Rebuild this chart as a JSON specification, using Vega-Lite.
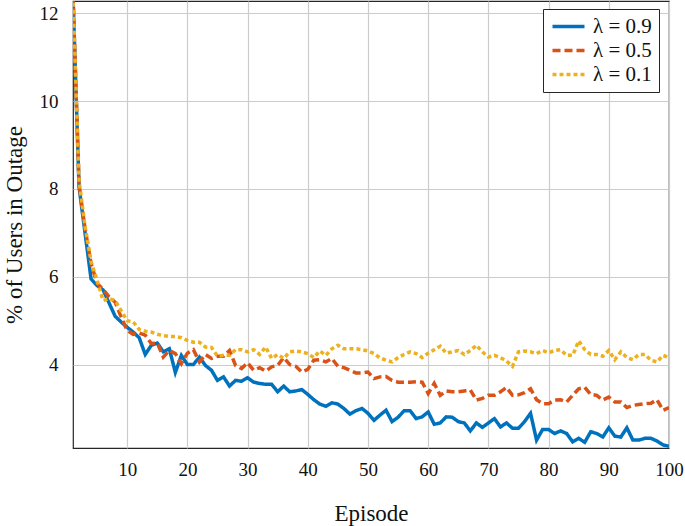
{
  "$schema": "https://vega.github.io/schema/vega-lite/v6.json",
  "width": 596,
  "height": 447,
  "autosize": {"type": "none"},
  "padding": {"left": 73, "top": 1, "right": 16, "bottom": 78},
  "config": {
    "font": "Liberation Serif",
    "view": {"stroke": "#262626", "strokeWidth": 1.2}
  },
  "data": {
    "values": [
      {"ep": 1, "a": 12.4, "b": 12.4, "c": 12.4},
      {"ep": 2, "a": 8.05, "b": 8.1, "c": 8.2},
      {"ep": 3, "a": 7.0, "b": 7.1, "c": 7.15},
      {"ep": 4, "a": 5.95, "b": 6.3, "c": 6.35},
      {"ep": 5, "a": 5.8, "b": 5.85, "c": 5.92},
      {"ep": 6, "a": 5.7, "b": 5.71, "c": 5.46},
      {"ep": 7, "a": 5.4, "b": 5.54, "c": 5.5},
      {"ep": 8, "a": 5.1, "b": 5.42, "c": 5.46},
      {"ep": 9, "a": 4.97, "b": 5.08, "c": 5.23},
      {"ep": 10, "a": 4.85, "b": 4.78, "c": 5.0},
      {"ep": 11, "a": 4.74, "b": 4.69, "c": 4.97},
      {"ep": 12, "a": 4.61, "b": 4.72, "c": 4.8},
      {"ep": 13, "a": 4.23, "b": 4.67, "c": 4.76},
      {"ep": 14, "a": 4.44, "b": 4.48, "c": 4.74},
      {"ep": 15, "a": 4.49, "b": 4.49, "c": 4.69},
      {"ep": 16, "a": 4.29, "b": 4.17, "c": 4.66},
      {"ep": 17, "a": 4.36, "b": 4.32, "c": 4.64},
      {"ep": 18, "a": 3.82, "b": 4.25, "c": 4.64},
      {"ep": 19, "a": 4.21, "b": 4.02, "c": 4.61},
      {"ep": 20, "a": 4.0, "b": 4.26, "c": 4.55},
      {"ep": 21, "a": 4.0, "b": 4.34, "c": 4.51},
      {"ep": 22, "a": 4.17, "b": 4.06, "c": 4.51},
      {"ep": 23, "a": 3.98, "b": 4.23, "c": 4.4},
      {"ep": 24, "a": 3.87, "b": 4.14, "c": 4.39},
      {"ep": 25, "a": 3.64, "b": 4.19, "c": 4.19},
      {"ep": 26, "a": 3.72, "b": 4.19, "c": 4.21},
      {"ep": 27, "a": 3.51, "b": 4.32, "c": 4.21},
      {"ep": 28, "a": 3.64, "b": 3.98, "c": 4.34},
      {"ep": 29, "a": 3.62, "b": 3.91, "c": 4.34},
      {"ep": 30, "a": 3.7, "b": 4.04, "c": 4.29},
      {"ep": 31, "a": 3.6, "b": 3.87, "c": 4.34},
      {"ep": 32, "a": 3.57, "b": 3.93, "c": 4.23},
      {"ep": 33, "a": 3.55, "b": 3.85, "c": 4.4},
      {"ep": 34, "a": 3.55, "b": 3.95, "c": 4.14},
      {"ep": 35, "a": 3.38, "b": 3.98, "c": 4.23},
      {"ep": 36, "a": 3.51, "b": 4.16, "c": 4.14},
      {"ep": 37, "a": 3.38, "b": 4.0, "c": 4.29},
      {"ep": 38, "a": 3.4, "b": 3.96, "c": 4.31},
      {"ep": 39, "a": 3.43, "b": 3.83, "c": 4.29},
      {"ep": 40, "a": 3.32, "b": 3.89, "c": 4.25},
      {"ep": 41, "a": 3.2, "b": 4.1, "c": 4.16},
      {"ep": 42, "a": 3.1, "b": 4.11, "c": 4.31},
      {"ep": 43, "a": 3.05, "b": 4.06, "c": 4.21},
      {"ep": 44, "a": 3.13, "b": 4.14, "c": 4.36},
      {"ep": 45, "a": 3.1, "b": 3.96, "c": 4.44},
      {"ep": 46, "a": 3.0, "b": 3.93, "c": 4.36},
      {"ep": 47, "a": 2.87, "b": 3.87, "c": 4.36},
      {"ep": 48, "a": 2.95, "b": 3.81, "c": 4.36},
      {"ep": 49, "a": 3.0, "b": 3.81, "c": 4.34},
      {"ep": 50, "a": 2.89, "b": 3.83, "c": 4.31},
      {"ep": 51, "a": 2.73, "b": 3.68, "c": 4.25},
      {"ep": 52, "a": 2.85, "b": 3.72, "c": 4.15},
      {"ep": 53, "a": 2.96, "b": 3.73, "c": 4.1},
      {"ep": 54, "a": 2.7, "b": 3.64, "c": 4.06},
      {"ep": 55, "a": 2.8, "b": 3.6, "c": 4.16},
      {"ep": 56, "a": 2.95, "b": 3.6, "c": 4.23},
      {"ep": 57, "a": 2.95, "b": 3.6, "c": 4.29},
      {"ep": 58, "a": 2.77, "b": 3.61, "c": 4.25},
      {"ep": 59, "a": 2.81, "b": 3.6, "c": 4.16},
      {"ep": 60, "a": 2.92, "b": 3.34, "c": 4.26},
      {"ep": 61, "a": 2.64, "b": 3.57, "c": 4.34},
      {"ep": 62, "a": 2.67, "b": 3.3, "c": 4.42},
      {"ep": 63, "a": 2.81, "b": 3.4, "c": 4.26},
      {"ep": 64, "a": 2.8, "b": 3.38, "c": 4.29},
      {"ep": 65, "a": 2.7, "b": 3.38, "c": 4.32},
      {"ep": 66, "a": 2.67, "b": 3.4, "c": 4.23},
      {"ep": 67, "a": 2.49, "b": 3.42, "c": 4.32},
      {"ep": 68, "a": 2.67, "b": 3.19, "c": 4.44},
      {"ep": 69, "a": 2.57, "b": 3.23, "c": 4.29},
      {"ep": 70, "a": 2.67, "b": 3.3, "c": 4.17},
      {"ep": 71, "a": 2.77, "b": 3.3, "c": 4.21},
      {"ep": 72, "a": 2.58, "b": 3.38, "c": 4.16},
      {"ep": 73, "a": 2.67, "b": 3.48, "c": 4.08},
      {"ep": 74, "a": 2.55, "b": 3.3, "c": 3.96},
      {"ep": 75, "a": 2.55, "b": 3.31, "c": 4.29},
      {"ep": 76, "a": 2.7, "b": 3.36, "c": 4.31},
      {"ep": 77, "a": 2.89, "b": 3.45, "c": 4.29},
      {"ep": 78, "a": 2.28, "b": 3.2, "c": 4.25},
      {"ep": 79, "a": 2.52, "b": 3.11, "c": 4.32},
      {"ep": 80, "a": 2.52, "b": 3.11, "c": 4.27},
      {"ep": 81, "a": 2.43, "b": 3.19, "c": 4.32},
      {"ep": 82, "a": 2.49, "b": 3.2, "c": 4.34},
      {"ep": 83, "a": 2.43, "b": 3.15, "c": 4.21},
      {"ep": 84, "a": 2.24, "b": 3.3, "c": 4.21},
      {"ep": 85, "a": 2.32, "b": 3.45, "c": 4.54},
      {"ep": 86, "a": 2.23, "b": 3.48, "c": 4.34},
      {"ep": 87, "a": 2.47, "b": 3.32, "c": 4.23},
      {"ep": 88, "a": 2.43, "b": 3.3, "c": 4.23},
      {"ep": 89, "a": 2.35, "b": 3.19, "c": 4.19},
      {"ep": 90, "a": 2.56, "b": 3.26, "c": 4.32},
      {"ep": 91, "a": 2.37, "b": 3.15, "c": 4.11},
      {"ep": 92, "a": 2.35, "b": 3.15, "c": 4.29},
      {"ep": 93, "a": 2.56, "b": 3.02, "c": 4.16},
      {"ep": 94, "a": 2.28, "b": 3.07, "c": 4.11},
      {"ep": 95, "a": 2.28, "b": 3.09, "c": 4.23},
      {"ep": 96, "a": 2.32, "b": 3.11, "c": 4.23},
      {"ep": 97, "a": 2.32, "b": 3.12, "c": 4.1},
      {"ep": 98, "a": 2.26, "b": 3.2, "c": 4.06},
      {"ep": 99, "a": 2.17, "b": 2.96, "c": 4.21},
      {"ep": 100, "a": 2.14, "b": 3.02, "c": 4.16}
    ]
  },
  "transform": [{"fold": ["a", "b", "c"], "as": ["s", "v"]}],
  "mark": {"type": "line", "strokeWidth": 3.5, "clip": true},
  "encoding": {
    "x": {
      "field": "ep",
      "type": "quantitative",
      "scale": {"domain": [1, 100], "nice": false, "zero": false},
      "axis": {
        "values": [10, 20, 30, 40, 50, 60, 70, 80, 90, 100],
        "title": "Episode",
        "domain": false,
        "ticks": false,
        "grid": true,
        "gridColor": "#cccccc",
        "gridWidth": 1.2,
        "labelFont": "Liberation Serif",
        "labelFontSize": 19,
        "labelColor": "#111111",
        "labelPadding": 12,
        "labelFlush": false,
        "titleFont": "Liberation Serif",
        "titleFontSize": 23,
        "titleFontWeight": "normal",
        "titleColor": "#111111",
        "titlePadding": 23
      }
    },
    "y": {
      "field": "v",
      "type": "quantitative",
      "scale": {"domain": [2.1, 12.28], "nice": false, "zero": false},
      "axis": {
        "values": [4, 6, 8, 10, 12],
        "title": "% of Users in Outage",
        "domain": false,
        "ticks": false,
        "grid": true,
        "gridColor": "#cccccc",
        "gridWidth": 1.2,
        "labelFont": "Liberation Serif",
        "labelFontSize": 19,
        "labelColor": "#111111",
        "labelPadding": 15,
        "labelFlush": false,
        "titleFont": "Liberation Serif",
        "titleFontSize": 23,
        "titleFontWeight": "normal",
        "titleColor": "#111111",
        "titlePadding": 13
      }
    },
    "color": {
      "field": "s",
      "type": "nominal",
      "scale": {"domain": ["a", "b", "c"], "range": ["#0072BD", "#D95319", "#EDB120"]},
      "legend": {
        "title": null,
        "orient": "none",
        "legendX": 470,
        "legendY": 8,
        "labelExpr": "datum.label == 'a' ? 'λ = 0.9' : datum.label == 'b' ? 'λ = 0.5' : 'λ = 0.1'",
        "labelFont": "Liberation Serif",
        "labelFontSize": 21,
        "labelColor": "#111111",
        "labelOffset": 22,
        "symbolType": "M-1,0H3",
        "symbolSize": 256,
        "symbolStrokeWidth": 3.5,
        "strokeColor": "#262626",
        "fillColor": "white",
        "padding": 7,
        "rowPadding": 2
      }
    },
    "strokeDash": {
      "field": "s",
      "type": "nominal",
      "scale": {"domain": ["a", "b", "c"], "range": [[1, 0], [8, 4], [4, 3]]},
      "legend": {
        "title": null,
        "orient": "none",
        "legendX": 470,
        "legendY": 8,
        "labelExpr": "datum.label == 'a' ? 'λ = 0.9' : datum.label == 'b' ? 'λ = 0.5' : 'λ = 0.1'",
        "labelFont": "Liberation Serif",
        "labelFontSize": 21,
        "labelColor": "#111111",
        "labelOffset": 22,
        "symbolType": "M-1,0H3",
        "symbolSize": 256,
        "symbolStrokeWidth": 3.5,
        "strokeColor": "#262626",
        "fillColor": "white",
        "padding": 7,
        "rowPadding": 2
      }
    }
  }
}
